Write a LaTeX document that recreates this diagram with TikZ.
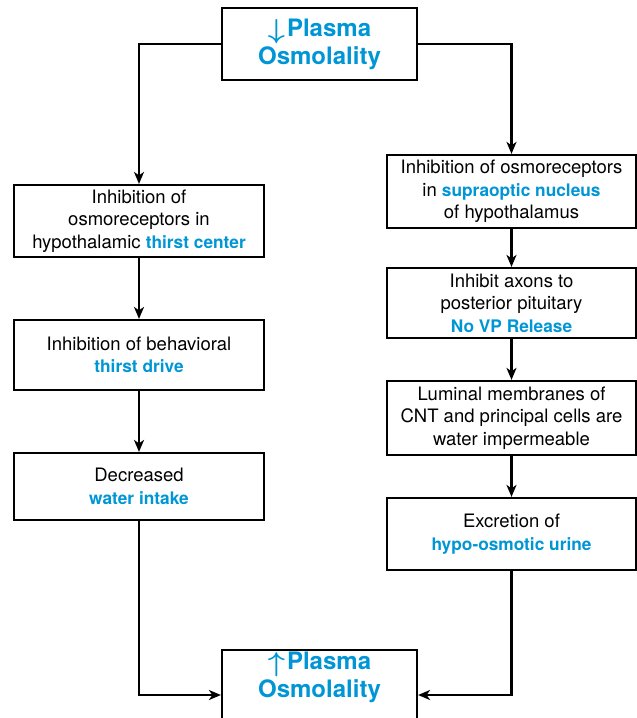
\documentclass[tikz,border=0pt]{standalone}
\usepackage{fontspec}
\setmainfont{TeX Gyre Heros}
\usepackage{tikz}
\usetikzlibrary{arrows.meta}
\usepackage{xcolor}
\definecolor{osmoblue}{RGB}{0,150,214}
\newcommand{\hl}[1]{{\fontsize{17.3}{22.5}\selectfont\color{osmoblue}\bfseries #1}}
\newcommand{\osmodir}[1]{\smash{\raisebox{-2pt}{\scalebox{1.2}[1.1]{\boldmath$#1$}}}\kern2pt}

\begin{document}
\begin{tikzpicture}[x=1pt, y=-1pt,
    stepbox/.style={draw, line width=2.2pt, align=center, inner sep=0pt,
        font=\fontsize{18.5}{22.5}\selectfont},
    osmobox/.style={draw, line width=2.2pt, align=center, inner sep=0pt,
        minimum width=195pt, text=osmoblue,
        font=\fontsize{24}{28}\selectfont\bfseries},
    flow/.style={line width=2.2pt, -{Stealth[length=12pt, width=10pt, inset=3.5pt]}}]
    \useasboundingbox (0,0) rectangle (637,718);

    % Plasma osmolality boxes
    \node[osmobox, minimum height=72pt] (high) at (319.5,44)
        {\osmodir{\downarrow}Plasma\\Osmolality};
    \node[osmobox, minimum height=80pt] (low) at (319.5,690)
        {\osmodir{\uparrow}Plasma\\Osmolality\\[2pt]};

    % Thirst side
    \node[stepbox, minimum width=250pt, minimum height=72pt] (thirstctr) at (139,221)
        {Inhibition of\\osmoreceptors in\\hypothalamic \hl{thirst center}};
    \node[stepbox, minimum width=250pt, minimum height=70pt] (thirstdrv) at (139,355)
        {Inhibition of behavioral\\\hl{thirst drive}};
    \node[stepbox, minimum width=250pt, minimum height=67pt] (intake) at (139,486.5)
        {Decreased\\\hl{water intake}};

    % Kidney side
    \node[stepbox, minimum width=249pt, minimum height=73pt] (supraopt) at (511.5,191.5)
        {Inhibition of osmoreceptors\\in \hl{supraoptic nucleus}\\of hypothalamus};
    \node[stepbox, minimum width=249pt, minimum height=70pt] (axons) at (511.5,303)
        {Inhibit axons to\\posterior pituitary\\\hl{No VP Release}};
    \node[stepbox, minimum width=249pt, minimum height=74pt] (lumen) at (511.5,418)
        {Luminal membranes of\\CNT and principal cells are\\water impermeable};
    \node[stepbox, minimum width=249pt, minimum height=72pt] (urine) at (511.5,534)
        {Excretion of\\\hl{hypo-osmotic urine}};

    % Arrows
    \draw[flow] (high.west) -| (thirstctr.north);
    \draw[flow] (high.east) -| (supraopt.north);
    \draw[flow] (thirstctr) -- (thirstdrv);
    \draw[flow] (thirstdrv) -- (intake);
    \draw[flow] (supraopt) -- (axons);
    \draw[flow] (axons) -- (lumen);
    \draw[flow] (lumen) -- (urine);
    \draw[flow] (intake.south) |- ([yshift=-5pt]low.west);
    \draw[flow] (urine.south) |- ([yshift=-5pt]low.east);
\end{tikzpicture}
\end{document}
